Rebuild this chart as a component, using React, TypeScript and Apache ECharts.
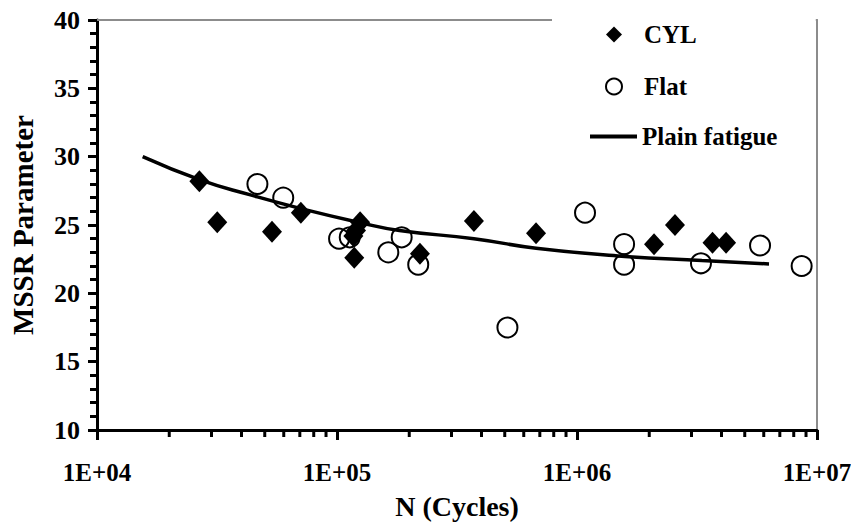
import React, { useEffect, useRef } from "react";
import * as echarts from "echarts";

// CYL specimens: [N cycles, MSSR]
const cylData: number[][] = [
  [26700, 28.2],
  [31700, 25.2],
  [53600, 24.5],
  [70700, 25.9],
  [124800, 25.2],
  [120000, 24.6],
  [117000, 24.2],
  [118000, 22.6],
  [221600, 22.9],
  [372000, 25.3],
  [675000, 24.4],
  [2094000, 23.6],
  [2560000, 25.0],
  [3670000, 23.7],
  [4180000, 23.7],
];

// Flat specimens: [N cycles, MSSR]
const flatData: number[][] = [
  [46600, 28.0],
  [59700, 27.0],
  [102000, 24.0],
  [113000, 24.1],
  [163600, 23.0],
  [186000, 24.1],
  [218000, 22.1],
  [513000, 17.5],
  [1080000, 25.9],
  [1571000, 23.6],
  [1571000, 22.1],
  [3285000, 22.2],
  [5790000, 23.5],
  [8630000, 22.0],
];

// Plain fatigue curve
const plainFatigue: number[][] = [
  [15500, 30.0],
  [26900, 28.3],
  [43600, 27.2],
  [70800, 26.2],
  [123000, 25.2],
  [182000, 24.6],
  [372000, 24.0],
  [676000, 23.3],
  [1585000, 22.7],
  [3311000, 22.4],
  [6310000, 22.15],
];

const xTickLabels = ["1E+04", "1E+05", "1E+06", "1E+07"];
const xMinorTicks = [
  20000, 30000, 40000, 50000, 60000, 70000, 80000, 90000,
  200000, 300000, 400000, 500000, 600000, 700000, 800000, 900000,
  2000000, 3000000, 4000000, 5000000, 6000000, 7000000, 8000000, 9000000,
];

const FONT = '"Liberation Serif", "Times New Roman", serif';
const legendText = { fontFamily: FONT, fontWeight: "bold", fontSize: 25, color: "#000" };

export default function App() {
  const ref = useRef<HTMLDivElement>(null);
  useEffect(() => {
    if (!ref.current) return;
    const chart = echarts.init(ref.current, undefined, { renderer: "svg" });
    chart.setOption({
      animation: false,
      backgroundColor: "#fff",
      grid: { left: 97, right: 42, top: 20, bottom: 101 },
      legend: [
        {
          orient: "vertical",
          left: 552,
          top: 0,
          padding: [22, 119, 20, 53],
          backgroundColor: "#fff",
          itemWidth: 16,
          itemHeight: 16,
          itemGap: 27,
          textStyle: { ...legendText, padding: [0, 0, 0, 17] },
          data: [
            { name: "CYL", icon: "diamond" },
            { name: "Flat", icon: "circle" },
          ],
        },
        {
          orient: "vertical",
          left: 590,
          top: 124,
          padding: 0,
          itemWidth: 47,
          itemHeight: 4,
          textStyle: legendText,
          data: [{ name: "Plain fatigue", icon: "rect" }],
        },
      ],
      xAxis: [
        {
          type: "log",
          logBase: 10,
          min: 10000,
          max: 10000000,
          name: "N (Cycles)",
          nameLocation: "middle",
          nameGap: 62,
          nameTextStyle: { fontFamily: FONT, fontWeight: "bold", fontSize: 28, color: "#000" },
          axisLine: { lineStyle: { color: "#000", width: 3 } },
          axisTick: { show: true, inside: false, length: 10, lineStyle: { color: "#000", width: 3 } },
          axisLabel: {
            margin: 30,
            fontFamily: FONT,
            fontWeight: "bold",
            fontSize: 25,
            color: "#000",
            formatter: (v: number) => xTickLabels[Math.round(Math.log10(v)) - 4] ?? "",
          },
          splitLine: { show: false },
          minorTick: { show: false },
        },
        {
          type: "log",
          logBase: 10,
          min: 10000,
          max: 10000000,
          position: "top",
          axisLine: { show: true, lineStyle: { color: "#8c8c8c", width: 2 } },
          axisTick: { show: false },
          axisLabel: { show: false },
          splitLine: { show: false },
        },
      ],
      yAxis: [
        {
          type: "value",
          min: 10,
          max: 40,
          interval: 5,
          name: "MSSR Parameter",
          nameLocation: "middle",
          nameGap: 60,
          nameRotate: 90,
          nameTextStyle: { fontFamily: FONT, fontWeight: "bold", fontSize: 29, color: "#000" },
          axisLine: { show: true, lineStyle: { color: "#000", width: 3 } },
          axisTick: { show: true, inside: false, length: 9, lineStyle: { color: "#000", width: 3 } },
          minorTick: { show: true, splitNumber: 5, length: 7, lineStyle: { color: "#000", width: 3 } },
          axisLabel: { margin: 17, fontFamily: FONT, fontWeight: "bold", fontSize: 26, color: "#000" },
          splitLine: { show: false },
        },
        {
          type: "value",
          min: 10,
          max: 40,
          position: "right",
          axisLine: { show: true, lineStyle: { color: "#8c8c8c", width: 2 } },
          axisTick: { show: false },
          axisLabel: { show: false },
          splitLine: { show: false },
        },
      ],
      series: [
        {
          type: "custom",
          name: "minorTicks",
          silent: true,
          clip: false,
          data: xMinorTicks.map((v) => [v, 10]),
          encode: { x: 0, y: 1 },
          renderItem: (_p: any, api: any) => {
            const pt = api.coord([api.value(0), api.value(1)]);
            return {
              type: "line",
              shape: { x1: pt[0], y1: pt[1], x2: pt[0], y2: pt[1] + 7 },
              style: { stroke: "#000", lineWidth: 3 },
            };
          },
        },
        {
          type: "scatter",
          name: "CYL",
          data: cylData,
          symbol: "diamond",
          symbolSize: [20, 22],
          itemStyle: { color: "#000", opacity: 1 },
        },
        {
          type: "scatter",
          name: "Flat",
          data: flatData,
          symbol: "circle",
          symbolSize: 20,
          itemStyle: { color: "rgba(255,255,255,0)", borderColor: "#000", borderWidth: 2, opacity: 1 },
        },
        {
          type: "line",
          name: "Plain fatigue",
          data: plainFatigue,
          smooth: true,
          symbol: "none",
          lineStyle: { color: "#000", width: 3.5 },
          itemStyle: { color: "#000" },
          z: 3,
        },
      ],
    });
    return () => chart.dispose();
  }, []);
  return <div ref={ref} style={{ width: 859, height: 531, margin: -8 }} />;
}
